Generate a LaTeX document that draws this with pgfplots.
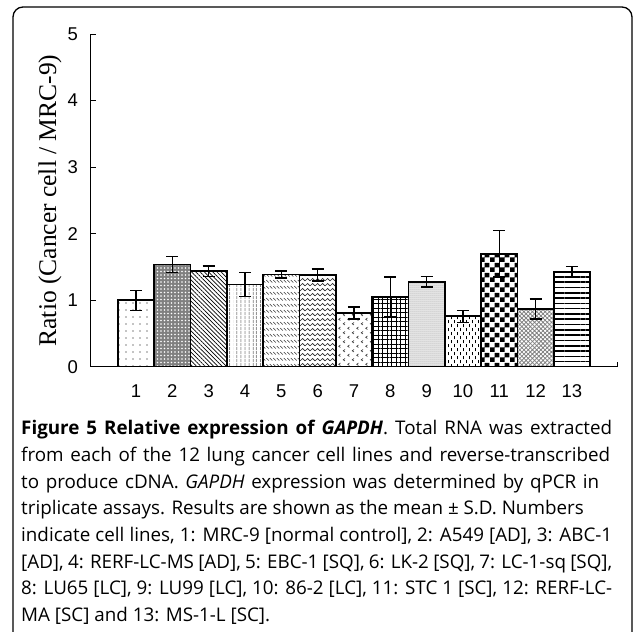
\documentclass[border=0pt]{standalone}
\usepackage{fontspec}
\usepackage{pgfplots}
\pgfplotsset{compat=1.18}
\usetikzlibrary{patterns,patterns.meta}
\newfontfamily\arialf{Liberation Sans}
\newfontfamily\timesf{Liberation Serif}
\newfontfamily\capfont{Open Sans}

% home-made fills for the bars that the stock patterns do not cover
\pgfdeclarepatternformonly{zigzag}{\pgfpoint{-1pt}{-1pt}}{\pgfpoint{6pt}{6pt}}{\pgfpoint{5pt}{5pt}}{
  \pgfsetlinewidth{0.7pt}
  \pgfpathmoveto{\pgfpoint{0pt}{1pt}}
  \pgfpathlineto{\pgfpoint{2.5pt}{3.5pt}}
  \pgfpathlineto{\pgfpoint{5pt}{1pt}}
  \pgfusepath{stroke}}
\pgfdeclarepatternformonly{dashdiag}{\pgfpoint{-1pt}{-1pt}}{\pgfpoint{4.5pt}{7pt}}{\pgfpoint{3.5pt}{6pt}}{
  \pgfsetlinewidth{0.6pt}
  \pgfpathmoveto{\pgfpoint{0.3pt}{4pt}}
  \pgfpathlineto{\pgfpoint{2.8pt}{1.5pt}}
  \pgfusepath{stroke}}
\pgfdeclarepatternformonly{chevrons}{\pgfpoint{-1pt}{-1pt}}{\pgfpoint{10pt}{10pt}}{\pgfpoint{9pt}{9pt}}{
  \pgfsetlinewidth{0.6pt}
  \pgfpathmoveto{\pgfpoint{3pt}{3.5pt}}
  \pgfpathlineto{\pgfpoint{1.2pt}{2.2pt}}
  \pgfpathlineto{\pgfpoint{3pt}{1pt}}
  \pgfpathmoveto{\pgfpoint{7.5pt}{8pt}}
  \pgfpathlineto{\pgfpoint{5.7pt}{6.7pt}}
  \pgfpathlineto{\pgfpoint{7.5pt}{5.5pt}}
  \pgfusepath{stroke}}
\pgfdeclarepatternformonly{vdashes}{\pgfpoint{-1pt}{-1pt}}{\pgfpoint{7pt}{9pt}}{\pgfpoint{6pt}{8pt}}{
  \pgfsetlinewidth{0.9pt}
  \pgfpathmoveto{\pgfpoint{1.5pt}{0.5pt}}
  \pgfpathlineto{\pgfpoint{1.5pt}{3.5pt}}
  \pgfpathmoveto{\pgfpoint{4.5pt}{4.5pt}}
  \pgfpathlineto{\pgfpoint{4.5pt}{7.5pt}}
  \pgfusepath{stroke}}
\pgfdeclarepatternformonly{checker}{\pgfpointorigin}{\pgfpoint{10pt}{10pt}}{\pgfpoint{10pt}{10pt}}{
  \pgfpathrectangle{\pgfpointorigin}{\pgfpoint{5pt}{5pt}}
  \pgfpathrectangle{\pgfpoint{5pt}{5pt}}{\pgfpoint{5pt}{5pt}}
  \pgfusepath{fill}}

\begin{document}
\begin{tikzpicture}[x=1pt,y=1pt]
\path[use as bounding box] (0,0) rectangle (633,632);
\draw[line width=1.3pt, rounded corners=10pt] (13,-20) rectangle (632,625);

\begin{axis}[
    at={(91pt,265pt)}, anchor=south west,
    scale only axis, width=526pt, height=333pt,
    xmin=-0.24, xmax=14.24, ymin=0, ymax=5,
    axis x line*=bottom, axis y line*=left,
    axis line style={line width=1pt, -},
    ybar, bar width=1, bar shift=0pt,
    xtick={1,...,13},
    xticklabels={1,2,3,4,5,6,7,8,9,10,11,12,13},
    xtick style={draw=none},
    extra x ticks={14.24}, extra x tick labels={},
    extra x tick style={xtick style={draw=black, line width=1pt}},
    ytick={0,1,2,3,4,5},
    tick align=inside, major tick length=5pt,
    ytick style={line width=1pt, black},
    tick label style={font=\arialf\fontsize{18.5}{20}\selectfont},
    /pgf/number format/assume math mode=true,
    yticklabel style={anchor=east, inner sep=0pt, xshift=-13pt},
    xticklabel style={anchor=center, inner sep=0pt, yshift=-24pt},
    ylabel={Ratio (Cancer cell / MRC-9)},
    ylabel style={font=\timesf\fontsize{25.5}{27}\selectfont,
        at={(axis description cs:-0.078,0.5)}, anchor=center},
    bx/.style={draw=black, line width=1.8pt},
    eb/.style={error bars/.cd, y dir=both, y explicit,
        error bar style={line width=1.5pt, black},
        error mark options={rotate=90, mark size=6pt, line width=1.5pt, black}},
]
\addplot[bx, fill=white, pattern={Dots[distance=7pt, radius=0.7pt]}, pattern color=black, eb]
  coordinates {(1,1.00) +- (0,0.15)};
\addplot[bx, fill=black!50, postaction={pattern={Dots[distance=3.5pt, radius=0.8pt]}, pattern color=white}, eb]
  coordinates {(2,1.54) +- (0,0.12)};
\addplot[bx, pattern={Lines[angle=-45, distance=3pt, line width=0.7pt]}, pattern color=black, eb]
  coordinates {(3,1.44) +- (0,0.08)};
\addplot[bx, pattern={Lines[angle=90, distance=4pt, line width=0.8pt]}, pattern color=black, eb]
  coordinates {(4,1.24) +- (0,0.18)};
\addplot[bx, pattern=dashdiag, pattern color=black!80, eb]
  coordinates {(5,1.39) +- (0,0.05)};
\addplot[bx, pattern=zigzag, pattern color=black!85, eb]
  coordinates {(6,1.38) +- (0,0.09)};
\addplot[bx, pattern=chevrons, pattern color=black!80, eb]
  coordinates {(7,0.81) +- (0,0.09)};
\addplot[bx, pattern={Hatch[angle=0, distance=4.5pt, line width=0.7pt]}, pattern color=black, eb]
  coordinates {(8,1.05) +- (0,0.30)};
\addplot[bx, fill=black!8, postaction={pattern={Dots[distance=2pt, radius=0.5pt]}, pattern color=black!45}, eb]
  coordinates {(9,1.28) +- (0,0.08)};
\addplot[bx, pattern=vdashes, pattern color=black, eb]
  coordinates {(10,0.76) +- (0,0.09)};
\addplot[bx, pattern=checker, pattern color=black, eb]
  coordinates {(11,1.70) +- (0,0.35)};
\addplot[bx, pattern={Hatch[distance=3pt, angle=45, line width=0.8pt]}, pattern color=black!50, eb]
  coordinates {(12,0.87) +- (0,0.15)};
\addplot[bx, pattern={Lines[angle=0, distance=5.3pt, line width=1.6pt]}, pattern color=black, eb]
  coordinates {(13,1.43) +- (0,0.08)};
\end{axis}

\begin{scope}[every node/.style={anchor=base west, inner sep=0pt, font=\capfont\fontsize{18.8}{20}\selectfont}]
\node at (21,197) {\hbox to 591pt{\textbf{Figure 5 Relative expression of \textit{GAPDH}}. Total RNA was extracted}};
\node at (21,170) {\hbox to 589pt{from each of the 12 lung cancer cell lines and reverse-transcribed}};
\node at (21,143.5) {\hbox to 578pt{to produce cDNA. \textit{GAPDH} expression was determined by qPCR in}};
\node at (21,117) {triplicate assays. Results are shown as the mean ± S.D. Numbers};
\node at (21,90) {\hbox to 591pt{indicate cell lines, 1: MRC-9 [normal control], 2: A549 [AD], 3: ABC-1}};
\node at (21,63.5) {\hbox to 591pt{[AD], 4: RERF-LC-MS [AD], 5: EBC-1 [SQ], 6: LK-2 [SQ], 7: LC-1-sq [SQ],}};
\node at (21,37) {\hbox to 591pt{8: LU65 [LC], 9: LU99 [LC], 10: 86-2 [LC], 11: STC 1 [SC], 12: RERF-LC-}};
\node at (21,10) {MA [SC] and 13: MS-1-L [SC].};
\end{scope}
\end{tikzpicture}
\end{document}
